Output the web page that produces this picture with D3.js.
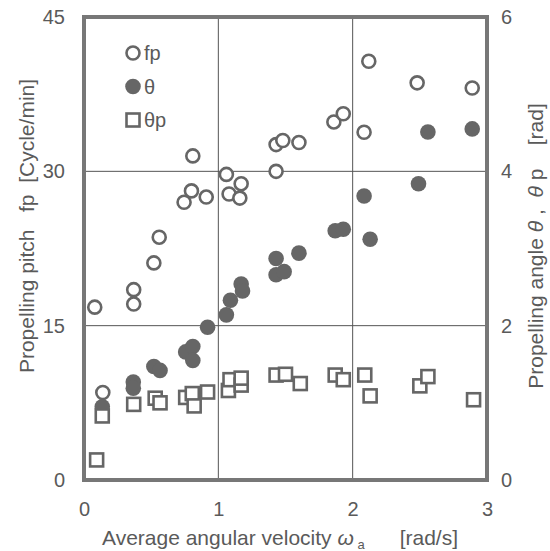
<!DOCTYPE html>
<html>
<head>
<meta charset="utf-8">
<script src="https://cdn.jsdelivr.net/npm/d3@7"></script>
<style>
  body { margin: 0; background: #fff; }
  text { font-family: "Liberation Sans", Arial, sans-serif; fill: #5a5a5a; }
</style>
</head>
<body>
<div id="chart"></div>
<script>
// Data: x = average angular velocity [rad/s]
const fpX = [0.08, 0.14, 0.37, 0.37, 0.52, 0.56, 0.745, 0.80, 0.81, 0.91, 1.06, 1.08, 1.16, 1.17, 1.43, 1.43, 1.48, 1.60, 1.86, 1.93, 2.085, 2.12, 2.48, 2.89];
const fpY = [16.8, 8.5, 17.1, 18.5, 21.1, 23.6, 27.0, 28.1, 31.5, 27.5, 29.7, 27.8, 27.4, 28.8, 30.0, 32.6, 33.0, 32.8, 34.8, 35.6, 33.8, 40.7, 38.6, 38.1];

const thetaX = [0.136, 0.367, 0.367, 0.52, 0.566, 0.757, 0.81, 0.81, 0.92, 1.06, 1.09, 1.17, 1.18, 1.43, 1.43, 1.49, 1.60, 1.87, 1.93, 2.085, 2.13, 2.49, 2.56, 2.89];
const thetaY = [0.95, 1.27, 1.19, 1.47, 1.42, 1.66, 1.73, 1.55, 1.98, 2.14, 2.33, 2.54, 2.45, 2.87, 2.66, 2.70, 2.94, 3.23, 3.25, 3.68, 3.12, 3.84, 4.51, 4.55];

const thetaPX = [0.094, 0.136, 0.37, 0.53, 0.566, 0.757, 0.806, 0.82, 0.92, 1.075, 1.087, 1.17, 1.17, 1.43, 1.50, 1.61, 1.87, 1.93, 2.09, 2.13, 2.50, 2.56, 2.90];
const thetaPY = [0.26, 0.83, 0.98, 1.06, 1.00, 1.07, 1.12, 0.96, 1.14, 1.16, 1.30, 1.23, 1.32, 1.36, 1.37, 1.25, 1.36, 1.30, 1.36, 1.09, 1.22, 1.34, 1.04];

const xTicks = [0, 1, 2, 3];
const leftTicks = [0, 15, 30, 45];
const rightTicks = [0, 2, 4, 6];

const legendItems = [
  { label: "fp", kind: "open" },
  { label: "\u03b8", kind: "filled" },
  { label: "\u03b8p", kind: "square" }
];

const W = 550, H = 551;
const plotL = 84, plotR = 487, plotT = 17, plotB = 480;
const grey = "#666";

const svg = d3.select("#chart").append("svg")
  .attr("width", W)
  .attr("height", H);

const x = d3.scaleLinear().domain([0, 3]).range([plotL, plotR]);
const yL = d3.scaleLinear().domain([0, 45]).range([plotB, plotT]);
const yR = d3.scaleLinear().domain([0, 6]).range([plotB, plotT]);

// grid lines
svg.append("g").selectAll("line")
  .data(xTicks.slice(1, -1))
  .join("line")
  .attr("x1", d => x(d)).attr("x2", d => x(d))
  .attr("y1", plotT).attr("y2", plotB)
  .attr("stroke", "#555").attr("stroke-width", 1);

svg.append("g").selectAll("line")
  .data(leftTicks.slice(1, -1))
  .join("line")
  .attr("x1", plotL).attr("x2", plotR)
  .attr("y1", d => yL(d)).attr("y2", d => yL(d))
  .attr("stroke", "#555").attr("stroke-width", 1);

// axes (labels only)
const xAxis = svg.append("g")
  .attr("transform", `translate(0,${plotB})`)
  .call(d3.axisBottom(x).tickValues(xTicks).tickSize(0).tickPadding(22).tickFormat(d3.format("d")));
const lAxis = svg.append("g")
  .attr("transform", `translate(${plotL},0)`)
  .call(d3.axisLeft(yL).tickValues(leftTicks).tickSize(0).tickPadding(19));
const rAxis = svg.append("g")
  .attr("transform", `translate(${plotR},0)`)
  .call(d3.axisRight(yR).tickValues(rightTicks).tickSize(0).tickPadding(14).tickFormat(d3.format("d")));

[xAxis, lAxis, rAxis].forEach(g => {
  g.select(".domain").remove();
  g.selectAll("text")
    .attr("font-size", 20)
    .attr("font-family", "Liberation Sans, Arial, sans-serif")
    .attr("fill", "#5a5a5a");
});

// markers
svg.append("g").selectAll("circle")
  .data(d3.zip(fpX, fpY))
  .join("circle")
  .attr("cx", d => x(d[0]))
  .attr("cy", d => yL(d[1]))
  .attr("r", 6.5)
  .attr("fill", "#fff")
  .attr("stroke", grey)
  .attr("stroke-width", 2.6);

svg.append("g").selectAll("circle")
  .data(d3.zip(thetaX, thetaY))
  .join("circle")
  .attr("cx", d => x(d[0]))
  .attr("cy", d => yR(d[1]))
  .attr("r", 7.8)
  .attr("fill", grey);

svg.append("g").selectAll("rect")
  .data(d3.zip(thetaPX, thetaPY))
  .join("rect")
  .attr("x", d => x(d[0]) - 6.5)
  .attr("y", d => yR(d[1]) - 6.5)
  .attr("width", 13)
  .attr("height", 13)
  .attr("fill", "#fff")
  .attr("stroke", grey)
  .attr("stroke-width", 2.6);

// frame
svg.append("rect")
  .attr("x", plotL).attr("y", plotT)
  .attr("width", plotR - plotL).attr("height", plotB - plotT)
  .attr("fill", "none")
  .attr("stroke", "#777")
  .attr("stroke-width", 4);

// legend
const legend = svg.append("g").attr("transform", "translate(133,53)");
legendItems.forEach((item, i) => {
  const g = legend.append("g").attr("transform", `translate(0,${i * 33.5})`);
  if (item.kind === "open") {
    g.append("circle").attr("r", 6.5).attr("fill", "#fff").attr("stroke", grey).attr("stroke-width", 2.6);
  } else if (item.kind === "filled") {
    g.append("circle").attr("r", 7.8).attr("fill", grey);
  } else {
    g.append("rect").attr("x", -6.5).attr("y", -6.5).attr("width", 13).attr("height", 13)
      .attr("fill", "#fff").attr("stroke", grey).attr("stroke-width", 2.6);
  }
  g.append("text")
    .attr("x", 11)
    .attr("dy", "0.36em")
    .attr("font-size", 20)
    .text(item.label);
});

// axis titles
const xTitle = svg.append("text")
  .attr("x", 102)
  .attr("y", 545)
  .attr("font-size", 21)
  .attr("xml:space", "preserve");
xTitle.append("tspan").text("Average angular velocity ");
xTitle.append("tspan").attr("font-style", "italic").text("\u03c9");
xTitle.append("tspan").attr("font-size", 13).attr("dy", 4).text(" a");
xTitle.append("tspan").attr("dy", -4).text("      [rad/s]");

svg.append("text")
  .attr("transform", "translate(34,226) rotate(-90)")
  .attr("text-anchor", "middle")
  .attr("font-size", 21)
  .attr("xml:space", "preserve")
  .text("Propelling pitch   fp  [Cycle/min]");

const rTitle = svg.append("text")
  .attr("transform", "translate(543,246) rotate(-90)")
  .attr("text-anchor", "middle")
  .attr("font-size", 21)
  .attr("xml:space", "preserve");
rTitle.append("tspan").text("Propelling angle ");
rTitle.append("tspan").attr("font-style", "italic").text("\u03b8");
rTitle.append("tspan").text(" ,  ");
rTitle.append("tspan").attr("font-style", "italic").text("\u03b8");
rTitle.append("tspan").text(" p    [rad]");
</script>
</body>
</html>
